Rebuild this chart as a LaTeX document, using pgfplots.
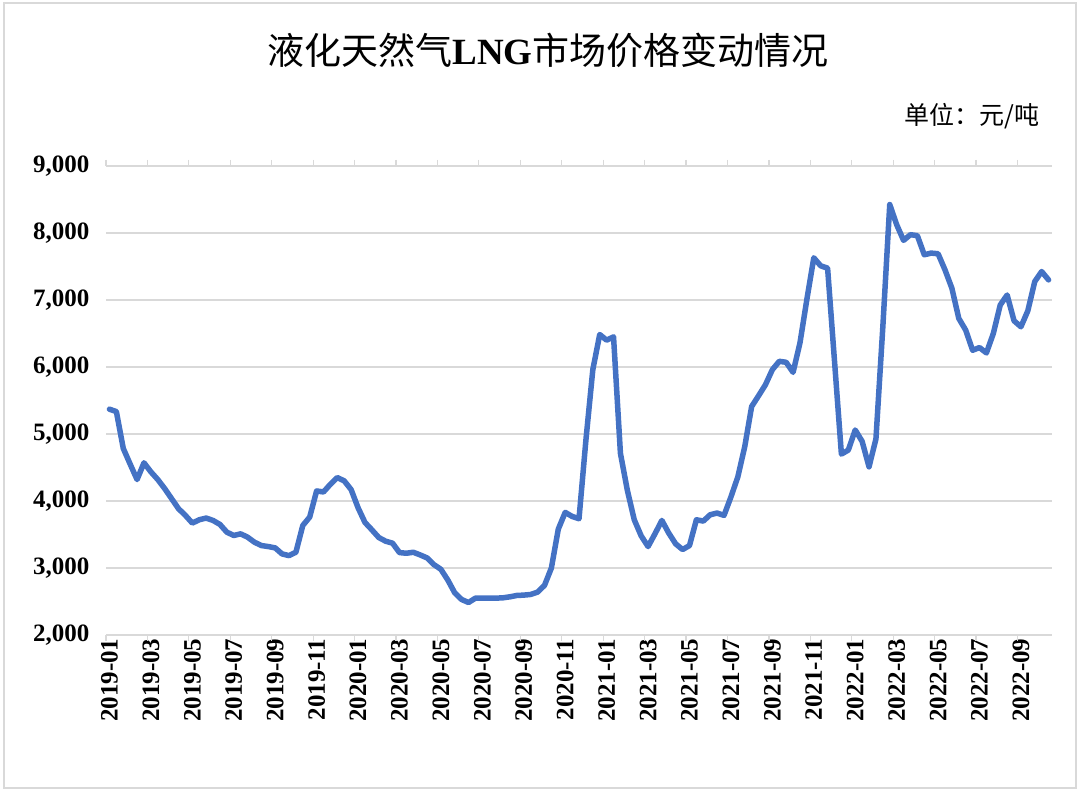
\documentclass[border=0pt]{standalone}
\usepackage{fontspec}
\setmainfont{Liberation Serif}
\newfontfamily\cjk{Noto Sans CJK SC}
\usepackage{pgfplots}
\usepackage{pgfplotstable}
\pgfplotsset{compat=1.18}
\definecolor{lineblue}{HTML}{4472C4}
\definecolor{gridgray}{HTML}{D9D9D9}

\pgfplotstableread{
x y
0 5370
1 5335
2 4785
3 4550
4 4320
5 4570
6 4435
7 4320
8 4185
9 4035
10 3885
11 3785
12 3670
13 3720
14 3745
15 3710
16 3650
17 3535
18 3485
19 3510
20 3460
21 3385
22 3335
23 3320
24 3300
25 3210
26 3185
27 3235
28 3635
29 3760
30 4150
31 4135
32 4250
33 4350
34 4300
35 4170
36 3900
37 3680
38 3570
39 3455
40 3400
41 3370
42 3230
43 3220
44 3235
45 3195
46 3150
47 3050
48 2980
49 2820
50 2630
51 2530
52 2485
53 2550
54 2550
55 2550
56 2550
57 2555
58 2570
59 2590
60 2595
61 2605
62 2640
63 2740
64 3000
65 3580
66 3830
67 3770
68 3735
69 4910
70 5960
71 6485
72 6400
73 6450
74 4710
75 4160
76 3720
77 3480
78 3320
79 3510
80 3710
81 3520
82 3360
83 3275
84 3335
85 3720
86 3700
87 3795
88 3820
89 3785
90 4060
91 4360
92 4810
93 5410
94 5570
95 5735
96 5960
97 6085
98 6070
99 5920
100 6360
101 7010
102 7630
103 7510
104 7475
105 6090
106 4700
107 4760
108 5060
109 4890
110 4510
111 4925
112 6600
113 8425
114 8125
115 7890
116 7975
117 7960
118 7675
119 7700
120 7690
121 7450
122 7175
123 6725
124 6550
125 6250
126 6290
127 6210
128 6500
129 6925
130 7075
131 6690
132 6600
133 6840
134 7275
135 7425
136 7300
}\lngdata

\begin{document}
\begin{tikzpicture}[x=1bp,y=1bp]
\useasboundingbox (0,0) rectangle (1079,791);
\draw[gridgray, line width=1.2bp] (4,3) rectangle (1076,788);
\node[font=\fontsize{37bp}{40bp}\selectfont] at (548,741) {\cjk 液化天然气{\rmfamily\bfseries LNG}市场价格变动情况};
\node[anchor=east, font=\fontsize{25bp}{28bp}\selectfont] at (1043,675) {\cjk 单位：元/吨};
\begin{axis}[
  at={(106bp,156bp)}, anchor=south west,
  scale only axis, width=946bp, height=469bp,
  xmin=-0.5, xmax=136.5, ymin=2000, ymax=9000,
  axis line style={draw=none},
  ytick={2000,3000,...,9000},
  ymajorgrids,
  major grid style={gridgray, line width=1.3bp},
  ytick style={draw=none},
  /pgf/number format/assume math mode=true,
  /pgf/number format/1000 sep={,},
  yticklabel style={font=\fontsize{25bp}{28bp}\selectfont\bfseries, xshift=-13bp},
  xtick={0,6,...,132},
  xticklabels={2019-01,2019-03,2019-05,2019-07,2019-09,2019-11,2020-01,2020-03,2020-05,2020-07,2020-09,2020-11,2021-01,2021-03,2021-05,2021-07,2021-09,2021-11,2022-01,2022-03,2022-05,2022-07,2022-09},
  xtick style={draw=none},
  xticklabel style={rotate=90, anchor=east, font=\fontsize{25bp}{28bp}\selectfont\bfseries},
  extra x ticks={-0.5,5.5,...,131.5},
  extra x tick labels={},
  extra x tick style={xtick style={draw=gridgray, line width=1.2bp}, major tick length=6bp, tick align=outside},
  clip=false,
]
\draw[gridgray, line width=1.3bp] (axis cs:-0.5,2000) -- (axis cs:136.5,2000);
\addplot[lineblue, line width=5.5bp, line join=round, line cap=round, mark=none] table[x=x,y=y] {\lngdata};
\end{axis}
\end{tikzpicture}
\end{document}
